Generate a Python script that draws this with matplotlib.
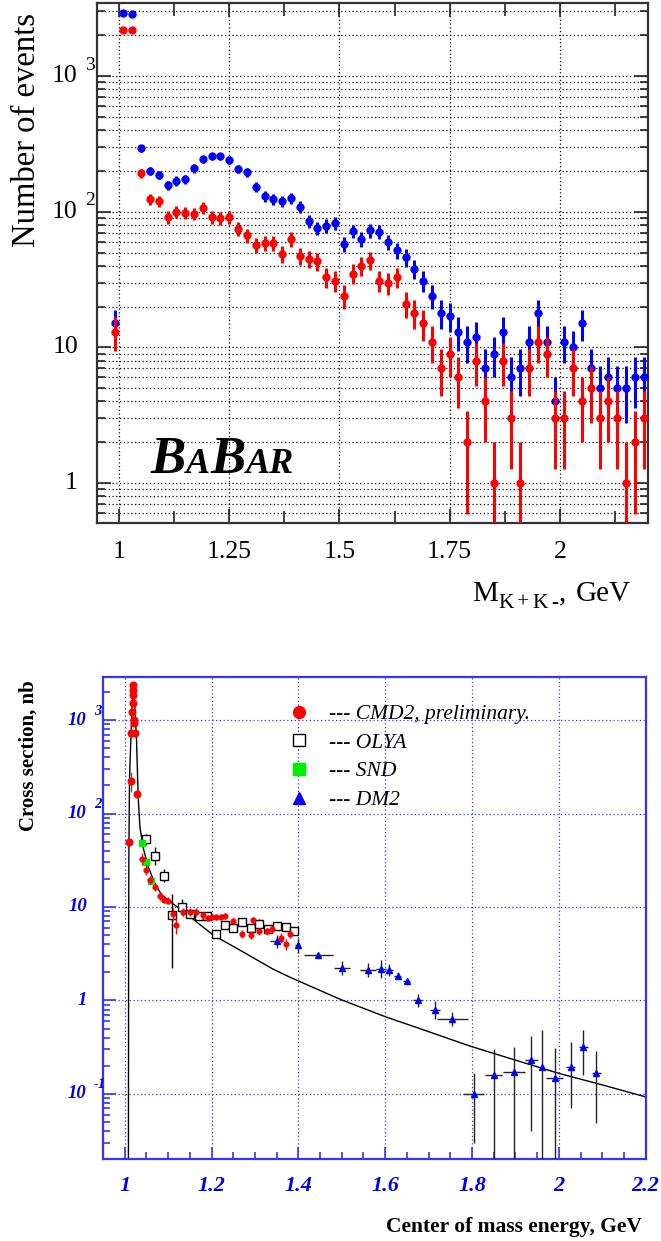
import numpy as np
import matplotlib.pyplot as plt
from matplotlib.ticker import FixedLocator, NullFormatter, LogLocator
from matplotlib.transforms import offset_copy
from matplotlib.lines import Line2D

plt.rcParams['font.family'] = ['Liberation Serif', 'DejaVu Serif']

# ---- top panel: K+K- invariant mass, events per 20 MeV bin ----
mass = [0.99, 1.01, 1.03, 1.05, 1.07, 1.09, 1.11, 1.13, 1.15, 1.17, 1.19,
        1.21, 1.23, 1.25, 1.27, 1.29, 1.31, 1.33, 1.35, 1.37, 1.39,
        1.41, 1.43, 1.45, 1.47, 1.49, 1.51, 1.53, 1.55, 1.57, 1.59,
        1.61, 1.63, 1.65, 1.67, 1.69, 1.71, 1.73, 1.75, 1.77, 1.79,
        1.81, 1.83, 1.85, 1.87, 1.89, 1.91, 1.93, 1.95, 1.97, 1.99,
        2.01, 2.03, 2.05, 2.07, 2.09, 2.11, 2.13, 2.15, 2.17, 2.19]
n_blue = [15, 2900, 2870, 294, 200, 187, 157, 169, 174, 209, 243,
          257, 257, 241, 207, 195, 152, 130, 124, 119, 126,
          109, 85, 76, 79, 82, 58, 72, 63, 73, 71,
          60, 52, 46, 38, 31, 24, 18, 17, 13, 11,
          12, 7, 9, 13, 6, 7, 11, 18, 11, 4,
          11, 10, 15, 7, 5, 6, 5, 5, 6, 6]
n_red = [13, 2180, 2180, 192, 124, 119, 91, 100, 98, 96, 107,
         91, 90, 91, 75, 67, 57, 59, 59, 49, 63,
         47, 45, 43, 33, 31, 24, 35, 40, 44, 31,
         30, 33, 21, 18, 15, 11, 7, 9, 6, 2,
         8, 4, 1, 8, 3, 1, 7, 11, 9, 3,
         3, 7, 4, 5, 3, 4, 3, 1, 2, 3]

# ---- bottom panel: e+e- -> K+K- cross section ----
cmd2_peak_E = [1.0092, 1.0138, 1.0155, 1.0170, 1.0180, 1.0190, 1.0195, 1.0200, 1.0210, 1.0215, 1.0230, 1.0277]
cmd2_peak_s = [50, 224, 730, 1230, 1860, 2360, 2100, 1510, 920, 1000, 730, 162]
cmd2_peak_e = [4, 55, 80, 60, 80, 100, 90, 70, 50, 60, 70, 14]
cmd2_E = [1.040, 1.048, 1.059, 1.069, 1.081, 1.091, 1.100, 1.111, 1.119, 1.135, 1.150, 1.165, 1.181, 1.192,
          1.200, 1.210, 1.221, 1.231, 1.250, 1.271, 1.290, 1.296, 1.310, 1.327, 1.340, 1.360, 1.371, 1.381]
cmd2_s = [33, 25, 19.5, 16.5, 13.2, 12, 11.7, 8.5, 6.4, 8.9, 8.9, 8.9, 8.2, 7.6,
          7.8, 7.9, 7.8, 8.1, 7.1, 5.2, 5.0, 7.2, 5.5, 5.5, 5.8, 4.7, 4.0, 5.2]
cmd2_e = [5, 3, 2, 1.5, 1.2, 1, 1, 1.2, 1.2, 0.8, 0.8, 0.8, 0.7, 0.6,
          0.6, 0.6, 0.6, 0.6, 0.6, 0.5, 0.5, 0.6, 0.5, 0.5, 0.5, 0.6, 0.5, 0.5]

olya_E = [1.050, 1.069, 1.090, 1.109, 1.131, 1.150, 1.171, 1.190, 1.210, 1.231, 1.250, 1.271,
          1.290, 1.310, 1.329, 1.350, 1.371, 1.391]
olya_s = [53, 35, 21.5, 8.2, 10, 8.5, 8.0, 8.0, 5.2, 6.4, 5.9, 6.9, 5.9, 6.6, 5.8, 6.2, 6.1, 5.5]
olya_lo = [7, 7, 3.2, 6.0, 1.8, 0.5, 0.4, 0.4, 0.3, 0.4, 0.5, 0.5, 0.4, 0.9, 0.4, 0.4, 0.4, 0.3]
olya_hi = [8, 9, 3.7, 5.7, 2.2, 0.5, 0.4, 0.4, 0.3, 0.4, 0.5, 0.5, 0.4, 0.9, 0.4, 0.4, 0.4, 0.3]

snd_E = [1.040, 1.049, 1.060]
snd_s = [48, 30, 19]

dm2_E = [1.350, 1.398, 1.446, 1.500, 1.560, 1.590, 1.609, 1.629, 1.650, 1.675, 1.715, 1.755,
         1.8035, 1.850, 1.896, 1.936, 1.961, 1.990, 2.027, 2.056, 2.086]
dm2_s = [4.3, 3.9, 3.1, 2.24, 2.12, 2.19, 2.12, 1.84, 1.62, 1.0, 0.80, 0.63,
         0.099, 0.158, 0.172, 0.23, 0.196, 0.147, 0.196, 0.316, 0.169]
dm2_dE = [0.015, 0.005, 0.034, 0.019, 0.019, 0.012, 0.008, 0.008, 0.008, 0.010, 0.012, 0.035,
          0.024, 0.020, 0.025, 0.015, 0.005, 0.020, 0.010, 0.010, 0.010]
dm2_lo = [0.7, 0.66, 0.15, 0.35, 0.33, 0.44, 0.28, 0.16, 0.12, 0.14, 0.16, 0.10,
          0.069, 0.145, 0.16, 0.19, 0.185, 0.135, 0.125, 0.156, 0.12]
dm2_hi = [0.7, 0.8, 0.15, 0.42, 0.40, 0.55, 0.33, 0.18, 0.13, 0.16, 0.19, 0.12,
          0.07, 0.142, 0.148, 0.19, 0.284, 0.163, 0.164, 0.164, 0.121]

curve_E = [1.0085, 1.0090, 1.0095, 1.0110, 1.0145, 1.0190, 1.0230, 1.0270, 1.0310, 1.0350, 1.0420,
           1.0540, 1.0690, 1.0850, 1.1150, 1.1500, 1.2040, 1.2730, 1.3420, 1.3810, 1.4960,
           1.6040, 1.6800, 1.7500, 1.8000, 1.9000, 2.0000, 2.1000, 2.2000]
curve_s = [0.01, 3, 30, 228, 700, 2400, 1500, 660, 150, 72, 44,
           27, 18, 13.5, 10.5, 7.9, 5.0, 3.3, 2.16, 1.77, 1.03,
           0.66, 0.50, 0.385, 0.32, 0.23, 0.166, 0.125, 0.093]

W, H = 661, 1241
fig = plt.figure(figsize=(W / 100, H / 100), dpi=100)
rend = fig.canvas.get_renderer()


def fx(x):
    return x / W


def fy(y):
    return 1 - y / H


def chain_text(x0, pieces, **kw):
    # pieces: (text, fontsize, baseline_y_px, gap_px); each piece starts where the last ended
    x = x0
    for txt, size, base, gap in pieces:
        t = fig.text(fx(x + gap), fy(base), txt, fontsize=size, ha='left', va='baseline', **kw)
        x = t.get_window_extent(rend).x1
    return x


def decade_labels(ax, decades, color, fs, sfs, base_dx, sup_dx, sup_dy, **kw):
    tr = ax.get_yaxis_transform()
    for d in decades:
        if d == 0 or d == 1:
            ax.text(0, 10.0 ** d, '1' if d == 0 else '10', transform=offset_copy(tr, fig, x=base_dx + 1, units='dots'),
                    ha='right', va='center', fontsize=fs, color=color, **kw)
        else:
            ax.text(0, 10.0 ** d, '10', transform=offset_copy(tr, fig, x=base_dx, units='dots'),
                    ha='right', va='center', fontsize=fs, color=color, **kw)
            ax.text(0, 10.0 ** d, str(d), transform=offset_copy(tr, fig, x=sup_dx, y=sup_dy, units='dots'),
                    ha='left', va='center', fontsize=sfs, color=color, **kw)


# ================= top panel =================
ax1 = fig.add_axes([fx(97), fy(523), fx(648) - fx(97), fy(3) - fy(523)])
ax1.set_yscale('log')
ax1.set_xlim(0.95, 2.2)
ax1.set_ylim(0.507, 3460)

m = np.array(mass)
nb = np.array(n_blue, dtype=float)
nr = np.array(n_red, dtype=float)
eb = np.sqrt(nb)
er = np.sqrt(nr)
ax1.errorbar(m, nb, yerr=[np.minimum(eb, nb - 0.01), eb], fmt='o', color='#0000ff',
             ms=5, elinewidth=2.2, capsize=0, zorder=3)
ax1.errorbar(m, nr, yerr=[np.minimum(er, nr - 0.01), er], fmt='o', color='#ff0000',
             ms=5, elinewidth=2.2, capsize=0, zorder=4)

ax1.xaxis.set_major_locator(FixedLocator([1, 1.25, 1.5, 1.75, 2]))
ax1.xaxis.set_minor_locator(FixedLocator([1.125, 1.375, 1.625, 1.875, 2.125]))
ax1.yaxis.set_major_locator(LogLocator(base=10, numticks=10))
ax1.yaxis.set_minor_locator(LogLocator(base=10, subs=np.arange(2, 10), numticks=20))
ax1.yaxis.set_major_formatter(NullFormatter())
ax1.yaxis.set_minor_formatter(NullFormatter())
ax1.set_xticklabels(['1', '1.25', '1.5', '1.75', '2'], fontsize=18.5)
ax1.tick_params(which='both', direction='in', top=True, right=True, width=1.2, color='#222222')
ax1.tick_params(which='major', length=10, pad=13)
ax1.tick_params(which='minor', length=6)
ax1.tick_params(axis='x', which='minor', length=9)
dots = (0, (1, 2))
ax1.grid(True, which='both', axis='y', ls=dots, color='k', lw=0.9)
ax1.grid(True, which='major', axis='x', ls=dots, color='k', lw=0.9)
for s in ax1.spines.values():
    s.set_linewidth(1.6)
    s.set_color('#333333')

decade_labels(ax1, [0, 1, 2, 3], 'k', 18.5, 14, -20, -12, 11)

fig.text(fx(27), fy(247), 'Number of events', rotation=90, ha='center', va='bottom', fontsize=23.5)

# BaBar logo, letters set one after another
chain_text(150, [('B', 38, 472.7, 0), ('A', 26, 472.7, 0.5), ('B', 38, 472.7, 0.5), ('AR', 26, 472.7, 0.5)],
           fontweight='bold', fontstyle='italic')

# x label  M_{K+K-}, GeV
chain_text(472, [('M', 21, 600.7, 0), ('K', 15.5, 608, 1), ('+', 15.5, 608, 3), ('K', 15.5, 608, 3),
                 ('-', 15.5, 608, 3), (',', 21, 600.7, 1), ('GeV', 21, 600.7, 9)])

# ================= bottom panel =================
blue = '#0000ee'
ax2 = fig.add_axes([fx(103), fy(1159.3), fx(645.7) - fx(103), fy(677.3) - fy(1159.3)])
ax2.set_yscale('log')
ax2.set_xlim(0.95, 2.2)
ax2.set_ylim(0.02, 2865)

ax2.plot(curve_E, curve_s, color='k', lw=1.0, zorder=2)

ax2.errorbar(dm2_E, dm2_s, xerr=dm2_dE, yerr=[dm2_lo, dm2_hi], fmt='^', color='#0000ff',
             ecolor='#222222', elinewidth=1.0, ms=4.5, capsize=0, zorder=3)
ax2.errorbar(olya_E, olya_s, yerr=[olya_lo, olya_hi], fmt='s', mfc='white', mec='k', mew=1.0,
             ecolor='k', elinewidth=1.0, ms=5.5, capsize=0, zorder=4)
ax2.plot(snd_E, snd_s, 's', color='#00ee00', ms=4, zorder=5)
ax2.errorbar(cmd2_E, cmd2_s, yerr=cmd2_e, fmt='o', color='#ff0000', ms=3.4,
             elinewidth=1.0, capsize=0, zorder=6)
ax2.errorbar(cmd2_peak_E, cmd2_peak_s, yerr=cmd2_peak_e, fmt='o', color='#ff0000', ms=4.8,
             ecolor='#555555', elinewidth=1.0, capsize=0, zorder=6)

ax2.xaxis.set_major_locator(FixedLocator([1, 1.2, 1.4, 1.6, 1.8, 2, 2.2]))
ax2.xaxis.set_minor_locator(FixedLocator(np.arange(0.95, 2.2, 0.05)))
ax2.yaxis.set_major_locator(LogLocator(base=10, numticks=10))
ax2.yaxis.set_minor_locator(LogLocator(base=10, subs=np.arange(2, 10), numticks=20))
ax2.yaxis.set_major_formatter(NullFormatter())
ax2.yaxis.set_minor_formatter(NullFormatter())
ax2.set_xticklabels(['1', '1.2', '1.4', '1.6', '1.8', '2', '2.2'], fontsize=16,
                    fontweight='bold', fontstyle='italic', color=blue)
ax2.tick_params(which='both', direction='in', color='#3333ff', width=1.2)
ax2.tick_params(which='major', length=9, pad=12)
ax2.tick_params(which='minor', length=5)
ax2.grid(True, which='major', ls=dots, color='#3333ff', lw=0.9)
for s in ax2.spines.values():
    s.set_linewidth(1.6)
    s.set_color('#3333ff')

decade_labels(ax2, [-1, 0, 1, 2, 3], blue, 13.5, 10.5, -17, -9, 9,
              fontweight='bold', fontstyle='italic')

fig.text(fx(29), fy(756), 'Cross section, nb', rotation=90, ha='center', va='center',
         fontsize=15, fontweight='bold')
fig.text(fx(642), fy(1231.7), 'Center of mass energy, GeV', ha='right', va='baseline',
         fontsize=15.5, fontweight='bold')

handles = [Line2D([], [], ls='none', marker='o', color='#ff0000', ms=8.5),
           Line2D([], [], ls='none', marker='s', mfc='white', mec='k', mew=1.0, ms=8.5),
           Line2D([], [], ls='none', marker='s', color='#00ee00', ms=8.5),
           Line2D([], [], ls='none', marker='^', color='#0000ff', ms=8.5)]
labels = ['--- CMD2, preliminary.', '--- OLYA', '--- SND', '--- DM2']
fig.legend(handles, labels, loc='upper left', bbox_to_anchor=(fx(288), fy(704)),
           frameon=False, handlelength=1.0, handletextpad=0.9, labelspacing=0.4,
           borderpad=0, borderaxespad=0, prop={'family': 'Liberation Serif', 'style': 'italic', 'size': 15.5})

fig.savefig('out.png', dpi=100)
